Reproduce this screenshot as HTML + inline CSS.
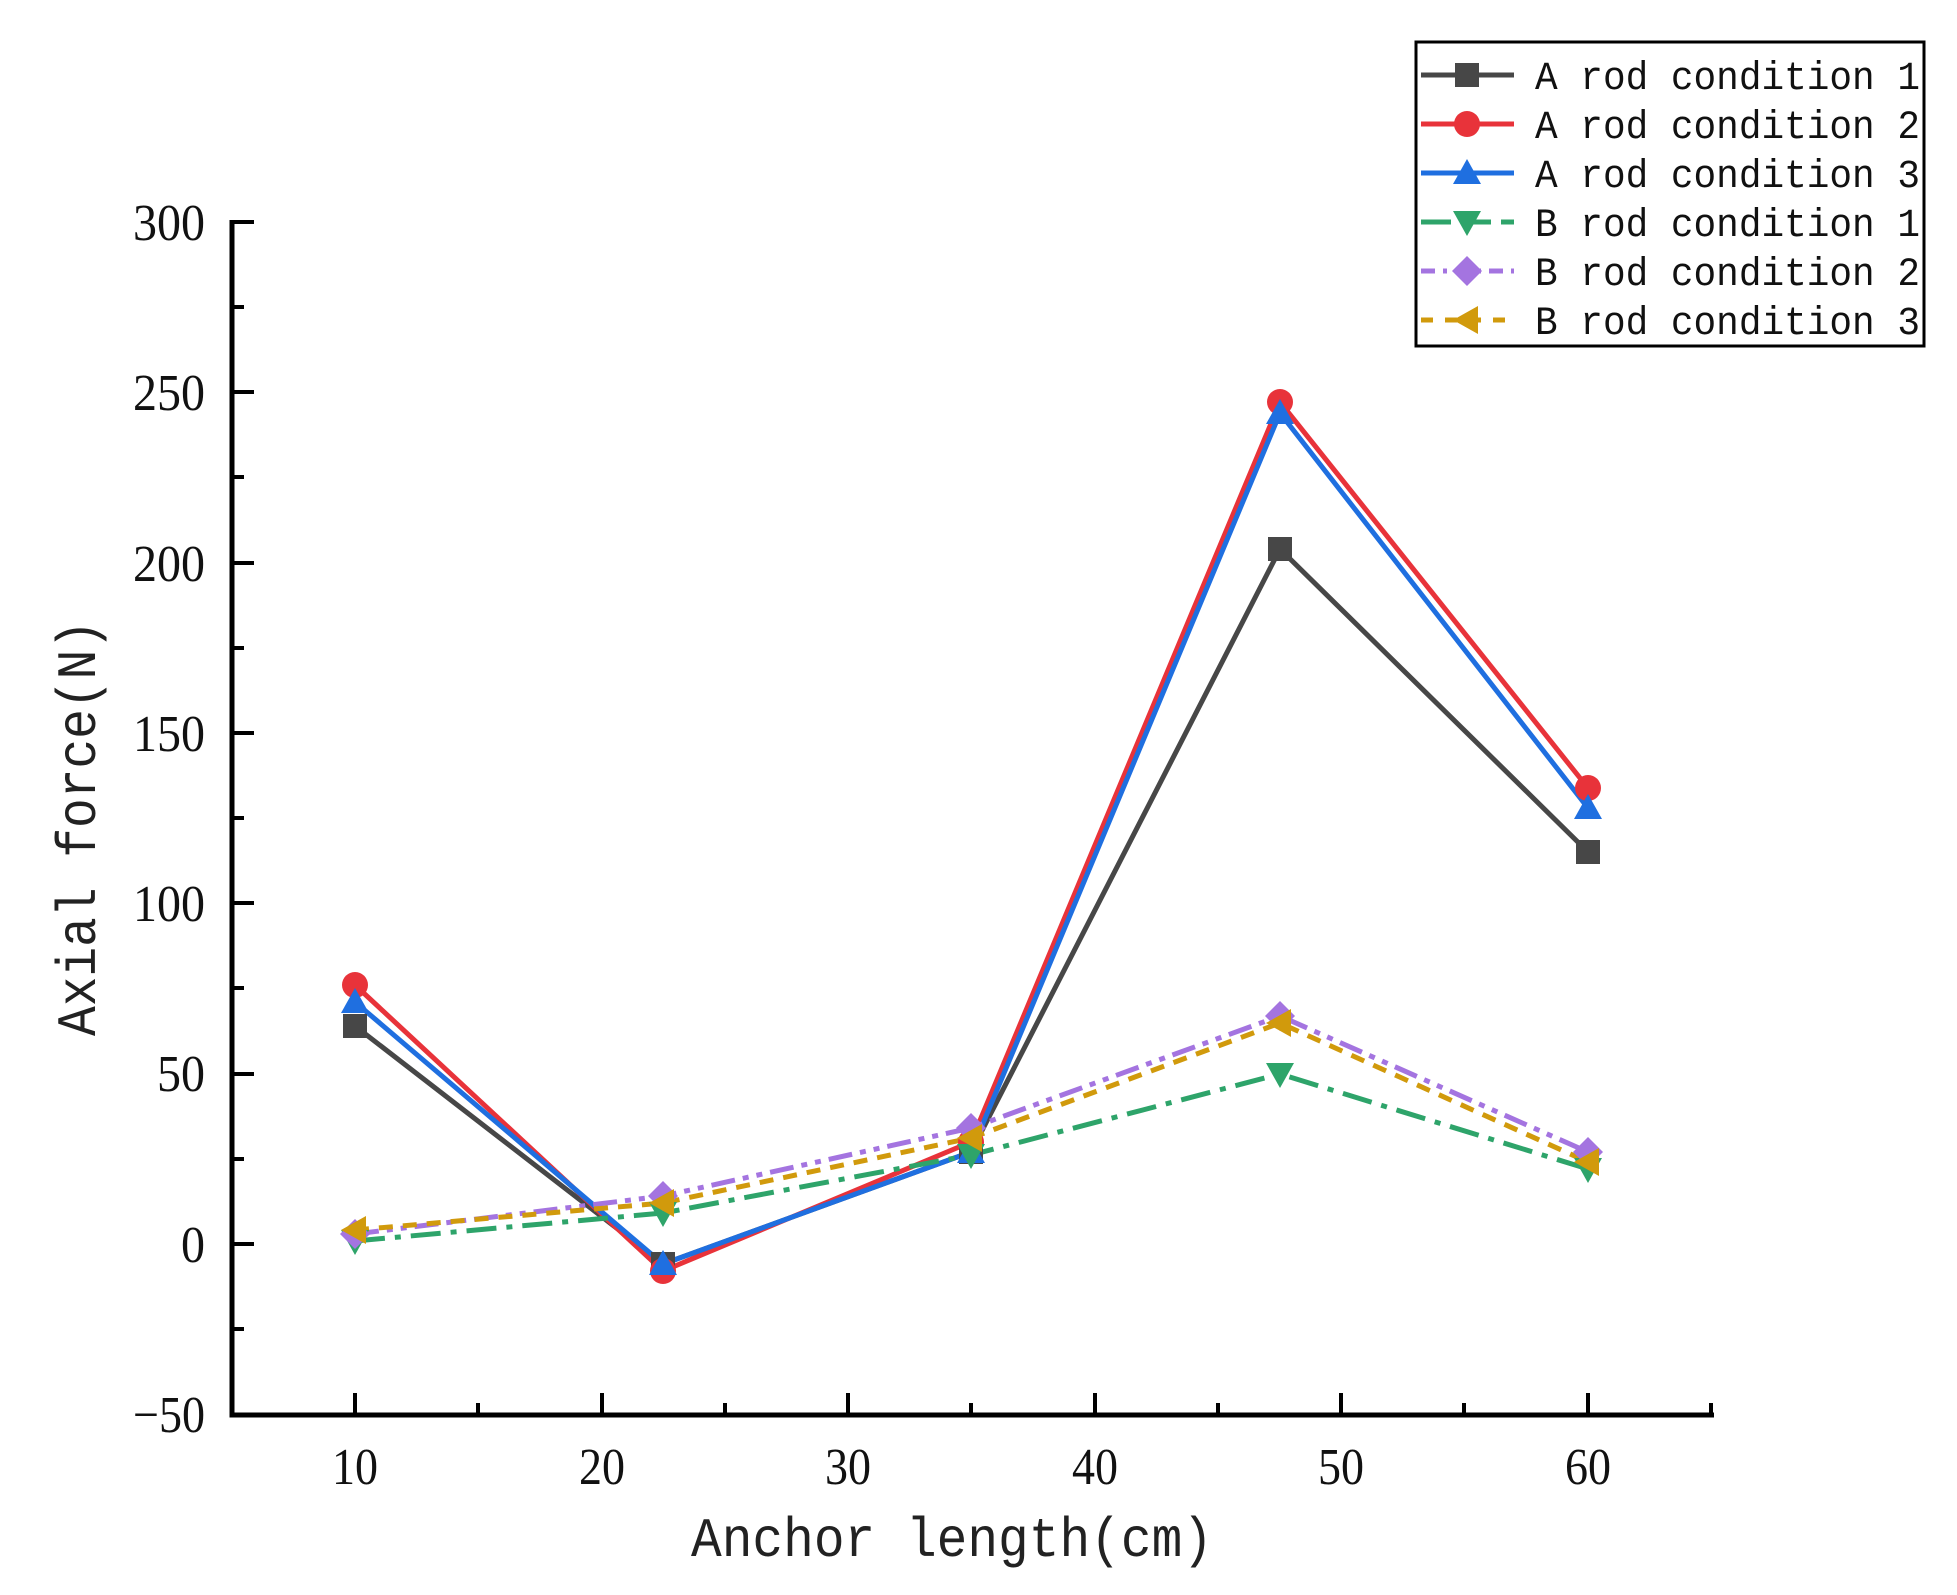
<!DOCTYPE html>
<html><head><meta charset="utf-8"><style>html,body{margin:0;padding:0;background:#fff}svg{display:block}</style></head>
<body>
<svg width="1957" height="1595" viewBox="0 0 1957 1595" xmlns="http://www.w3.org/2000/svg">
<defs>
<g id="sq"><rect x="-12" y="-12" width="24" height="24" fill="#474747"/></g>
<g id="ci"><circle r="13" fill="#e8333a"/></g>
<g id="tu"><polygon points="0,-14 14,11 -14,11" fill="#1f6fe0"/></g>
<g id="td"><polygon points="0,14 14,-11 -14,-11" fill="#2ea46a"/></g>
<g id="di"><polygon points="0,-15 15,0 0,15 -15,0" fill="#a474e0"/></g>
<g id="tl"><polygon points="-14,0 11,-14 11,14" fill="#d19a0c"/></g>
</defs>
<g font-family="Liberation Serif, serif" font-size="52" fill="#111">
<g text-anchor="end">
<text x="205" y="240" textLength="72" lengthAdjust="spacingAndGlyphs">300</text>
<text x="205" y="410" textLength="72" lengthAdjust="spacingAndGlyphs">250</text>
<text x="205" y="581" textLength="72" lengthAdjust="spacingAndGlyphs">200</text>
<text x="205" y="751" textLength="72" lengthAdjust="spacingAndGlyphs">150</text>
<text x="205" y="921" textLength="72" lengthAdjust="spacingAndGlyphs">100</text>
<text x="205" y="1091" textLength="48" lengthAdjust="spacingAndGlyphs">50</text>
<text x="205" y="1262" textLength="24" lengthAdjust="spacingAndGlyphs">0</text>
<text x="205" y="1432" textLength="72" lengthAdjust="spacingAndGlyphs">−50</text>
</g>
<g text-anchor="middle">
<text x="355" y="1484" textLength="46" lengthAdjust="spacingAndGlyphs">10</text>
<text x="602" y="1484" textLength="46" lengthAdjust="spacingAndGlyphs">20</text>
<text x="848" y="1484" textLength="46" lengthAdjust="spacingAndGlyphs">30</text>
<text x="1095" y="1484" textLength="46" lengthAdjust="spacingAndGlyphs">40</text>
<text x="1341" y="1484" textLength="46" lengthAdjust="spacingAndGlyphs">50</text>
<text x="1588" y="1484" textLength="46" lengthAdjust="spacingAndGlyphs">60</text>
</g>
</g>
<g font-family="Liberation Mono, monospace" font-size="56" fill="#222">
<text x="952" y="1556" text-anchor="middle" textLength="522" lengthAdjust="spacingAndGlyphs">Anchor length(cm)</text>
<text transform="translate(95,828) rotate(-90)" text-anchor="middle" textLength="416" lengthAdjust="spacingAndGlyphs">Axial force(N)</text>
</g>
<g stroke="#000" stroke-width="5" fill="none">
<path d="M232,220 V1415 H1714"/>
</g>
<g stroke="#000" stroke-width="4">
<path d="M232,222h22M232,392h22M232,563h22M232,733h22M232,903h22M232,1074h22M232,1244h22M232,307h12M232,477h12M232,648h12M232,818h12M232,988h12M232,1159h12M232,1329h12"/>
<path d="M355,1415v-22M602,1415v-22M848,1415v-22M1095,1415v-22M1341,1415v-22M1588,1415v-22M478,1415v-12M725,1415v-12M971,1415v-12M1218,1415v-12M1464,1415v-12M1711,1415v-12"/>
</g>
<g fill="none" stroke-width="5">
<polyline stroke="#474747" points="355,1026 663,1264 971,1152 1280,549 1588,852"/>
<polyline stroke="#e8333a" points="355,985 663,1271 971,1142 1280,402 1588,788"/>
<polyline stroke="#1f6fe0" points="355,1002 663,1264 971,1152 1280,413 1588,808"/>
<polyline stroke="#2ea46a" stroke-dasharray="30,10,6,10" points="355,1241 663,1213 971,1155 1280,1074 1588,1169"/>
<polyline stroke="#a474e0" stroke-dasharray="24,8,6,8,6,8" points="355,1234 663,1196 971,1128 1280,1016 1588,1152"/>
<polyline stroke="#d19a0c" stroke-dasharray="14,10" points="355,1230 663,1203 971,1138 1280,1023 1588,1162"/>
</g>
<g>
<use href="#sq" x="355" y="1026"/><use href="#sq" x="663" y="1264"/><use href="#sq" x="971" y="1152"/><use href="#sq" x="1280" y="549"/><use href="#sq" x="1588" y="852"/>
<use href="#ci" x="355" y="985"/><use href="#ci" x="663" y="1271"/><use href="#ci" x="971" y="1142"/><use href="#ci" x="1280" y="402"/><use href="#ci" x="1588" y="788"/>
<use href="#tu" x="355" y="1002"/><use href="#tu" x="663" y="1264"/><use href="#tu" x="971" y="1152"/><use href="#tu" x="1280" y="413"/><use href="#tu" x="1588" y="808"/>
<use href="#td" x="355" y="1241"/><use href="#td" x="663" y="1213"/><use href="#td" x="971" y="1155"/><use href="#td" x="1280" y="1074"/><use href="#td" x="1588" y="1169"/>
<use href="#di" x="355" y="1234"/><use href="#di" x="663" y="1196"/><use href="#di" x="971" y="1128"/><use href="#di" x="1280" y="1016"/><use href="#di" x="1588" y="1152"/>
<use href="#tl" x="355" y="1230"/><use href="#tl" x="663" y="1203"/><use href="#tl" x="971" y="1138"/><use href="#tl" x="1280" y="1023"/><use href="#tl" x="1588" y="1162"/>
</g>
<rect x="1416" y="42" width="508" height="304" fill="#fff" stroke="#000" stroke-width="3"/>
<g stroke-width="5" fill="none">
<line x1="1421" y1="75" x2="1514" y2="75" stroke="#474747"/>
<line x1="1421" y1="124" x2="1514" y2="124" stroke="#e8333a"/>
<line x1="1421" y1="173" x2="1514" y2="173" stroke="#1f6fe0"/>
<line x1="1421" y1="222" x2="1514" y2="222" stroke="#2ea46a" stroke-dasharray="30,10"/>
<line x1="1421" y1="271" x2="1514" y2="271" stroke="#a474e0" stroke-dasharray="14,8,4,8"/>
<line x1="1421" y1="320" x2="1514" y2="320" stroke="#d19a0c" stroke-dasharray="12,12"/>
</g>
<use href="#sq" x="1467" y="75"/><use href="#ci" x="1467" y="124"/><use href="#tu" x="1467" y="173"/>
<use href="#td" x="1467" y="222"/><use href="#di" x="1467" y="271"/><use href="#tl" x="1467" y="320"/>
<g font-family="Liberation Mono, monospace" font-size="40" fill="#111">
<text x="1535" y="89" textLength="385" lengthAdjust="spacingAndGlyphs">A rod condition 1</text>
<text x="1535" y="138" textLength="385" lengthAdjust="spacingAndGlyphs">A rod condition 2</text>
<text x="1535" y="187" textLength="385" lengthAdjust="spacingAndGlyphs">A rod condition 3</text>
<text x="1535" y="236" textLength="385" lengthAdjust="spacingAndGlyphs">B rod condition 1</text>
<text x="1535" y="285" textLength="385" lengthAdjust="spacingAndGlyphs">B rod condition 2</text>
<text x="1535" y="334" textLength="385" lengthAdjust="spacingAndGlyphs">B rod condition 3</text>
</g>
</svg>
</body></html>
